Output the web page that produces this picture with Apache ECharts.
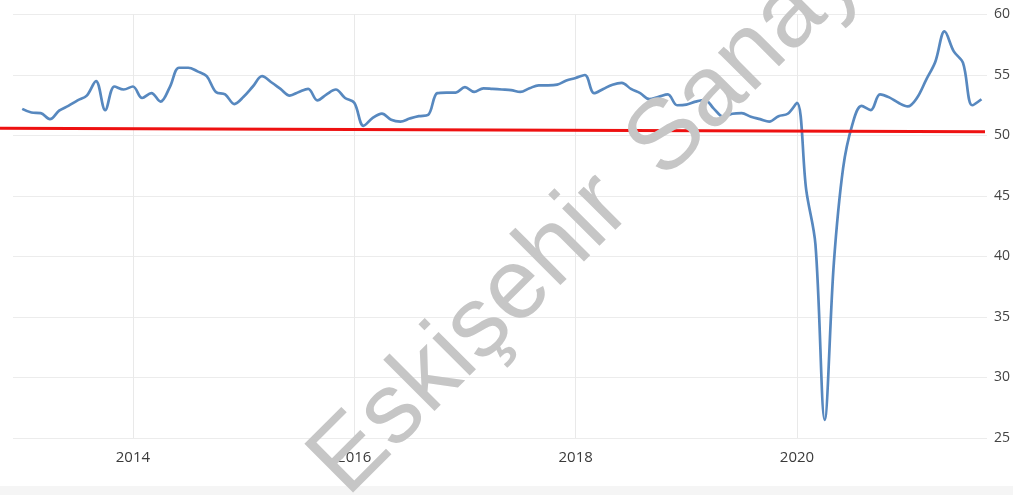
<!DOCTYPE html>
<html>
<head>
<meta charset="utf-8">
<script src="https://cdn.jsdelivr.net/npm/echarts@6/dist/echarts.min.js"></script>
<style>
  html, body { margin: 0; padding: 0; background: #ffffff; }
  #chart { width: 1013px; height: 495px; }
</style>
</head>
<body>
<div id="chart"></div>
<script>
// Monthly index readings, January 2013 onwards
const startYear = 2013;
const pmiValues = [
  52.2, 51.9, 51.85, 51.35, 52.05, 52.45, 52.9, 53.3, 54.5, 52.1, 54.05, 53.8,   // 2013
  54.05, 53.1, 53.5, 52.8, 54.0, 55.6, 55.6, 55.3, 54.9, 53.6, 53.4, 52.6,       // 2014
  53.2, 54.05, 54.9, 54.4, 53.85, 53.3, 53.6, 53.85, 52.9, 53.4, 53.8, 53.1,     // 2015
  52.7, 50.8, 51.45, 51.8, 51.3, 51.15, 51.4, 51.6, 51.7, 53.5, 53.55, 53.55,    // 2016
  54.0, 53.6, 53.9, 53.85, 53.8, 53.75, 53.6, 53.9, 54.15, 54.15, 54.2, 54.55,   // 2017
  54.75, 55.0, 53.5, 53.85, 54.2, 54.35, 53.85, 53.5, 53.0, 53.2, 53.4, 52.5,    // 2018
  52.55, 52.8, 52.95, 52.2, 51.55, 51.8, 51.85, 51.55, 51.35, 51.15, 51.6, 51.8, // 2019
  52.7, 45.5, 41.0, 26.5, 39.5, 47.3, 50.9, 52.45, 52.1, 53.4, 53.15, 52.7,      // 2020
  52.4, 53.1, 54.6, 56.1, 58.6, 56.95, 56.0, 52.5, 53.0                          // 2021
];

// Axis ticks
const yearTicks = [2014, 2016, 2018, 2020];
const valueMin = 25;
const valueMax = 60;
const valueStep = 5;

// Hand-drawn threshold line near 50 (value at left end, value at right end)
const thresholdLine = [50.6, 50.3];

// Diagonal watermark, in two words
const watermarkWords = ['Eskişehir', 'Sanayi Odası'];

const seriesData = pmiValues.map((v, i) => [startYear + i / 12, v]);
const xMin = startYear - 1 / 12;
const xMax = startYear + (pmiValues.length - 0.4) / 12;

const chart = echarts.init(document.getElementById('chart'), null, { renderer: 'canvas' });

const labelFont = '"Open Sans", "Noto Sans", sans-serif';
const watermarkFont = '100px "Liberation Sans", Arial, sans-serif';
const watermarkAngle = Math.PI / 4;
const wmStart = [363, 514];
const wmSecondOffset = 448; // distance along the baseline to the second word
const wmDir = [Math.cos(watermarkAngle), -Math.sin(watermarkAngle)];

function watermarkText(text, x, y) {
  return {
    type: 'text',
    x: x,
    y: y,
    rotation: watermarkAngle,
    z: 10,
    silent: true,
    style: {
      text: text,
      font: watermarkFont,
      fill: '#c6c6c6',
      textAlign: 'left',
      textVerticalAlign: 'bottom'
    }
  };
}

chart.setOption({
  animation: false,
  backgroundColor: '#ffffff',
  grid: [
    { left: 13, right: 26, top: 14.5, bottom: 57, containLabel: false },
    { left: 0, right: 28, top: 14.5, bottom: 57, containLabel: false }
  ],
  xAxis: [
    {
      gridIndex: 0,
      type: 'value',
      min: xMin,
      max: xMax,
      axisLine: { show: false },
      axisTick: { show: false, customValues: yearTicks },
      axisLabel: {
        customValues: yearTicks,
        formatter: v => String(Math.round(v)),
        color: '#3a3a3a',
        fontSize: 15,
        fontFamily: labelFont,
        margin: 12
      },
      splitLine: { show: true, lineStyle: { color: '#e9e9e9', width: 1 } }
    },
    {
      gridIndex: 1,
      type: 'value',
      min: 0,
      max: 1,
      show: false
    }
  ],
  yAxis: [
    {
      gridIndex: 0,
      type: 'value',
      position: 'right',
      min: valueMin,
      max: valueMax,
      interval: valueStep,
      axisLine: { show: false },
      axisTick: { show: false },
      axisLabel: {
        color: '#444444',
        fontSize: 14,
        fontFamily: labelFont,
        margin: 7
      },
      splitLine: { show: true, lineStyle: { color: '#ececec', width: 1 } }
    },
    {
      gridIndex: 1,
      type: 'value',
      min: valueMin,
      max: valueMax,
      show: false
    }
  ],
  series: [
    {
      type: 'line',
      xAxisIndex: 0,
      yAxisIndex: 0,
      data: seriesData,
      smooth: 0.35,
      showSymbol: false,
      lineStyle: { color: '#5788bf', width: 2.7 },
      z: 3
    },
    {
      type: 'line',
      xAxisIndex: 1,
      yAxisIndex: 1,
      data: [[0, thresholdLine[0]], [1, thresholdLine[1]]],
      showSymbol: false,
      lineStyle: { color: '#ee1111', width: 3 },
      z: 4
    }
  ],
  graphic: [
    {
      type: 'rect',
      left: 0,
      top: 486,
      shape: { width: 1013, height: 9 },
      style: { fill: '#f5f5f5' },
      z: 0
    },
    watermarkText(watermarkWords[0], wmStart[0], wmStart[1]),
    watermarkText(watermarkWords[1],
      wmStart[0] + wmDir[0] * wmSecondOffset,
      wmStart[1] + wmDir[1] * wmSecondOffset)
  ]
});
</script>
</body>
</html>
